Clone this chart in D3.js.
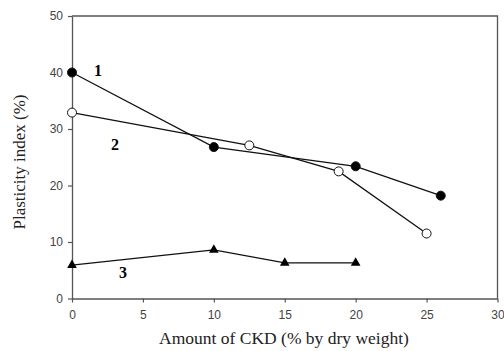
<!DOCTYPE html>
<html>
<head>
<meta charset="utf-8">
<script src="https://cdn.jsdelivr.net/npm/d3@7"></script>
<style>
  body { margin: 0; background: #fff; }
  svg { display: block; }
</style>
</head>
<body>
<script>
// values
const xTicks = [0, 5, 10, 15, 20, 25, 30];
const yTicks = [0, 10, 20, 30, 40, 50];
const s1x = [0, 10, 20, 26];
const s1y = [40, 26.8, 23.4, 18.2];
const s2x = [0, 12.5, 18.8, 25];
const s2y = [32.9, 27.1, 22.5, 11.5];
const s3x = [0, 10, 15, 20];
const s3y = [5.9, 8.6, 6.3, 6.3];

const W = 504, H = 351;
const svg = d3.select("body").append("svg").attr("width", W).attr("height", H);

const x = d3.scaleLinear().domain([0, 30]).range([72, 497.5]);
const y = d3.scaleLinear().domain([0, 50]).range([298.5, 16]);

const axisCol = "#555";

// frame (top + right)
svg.append("path")
  .attr("d", `M${x(0)},${y(50)}H${x(30)}V${y(0)}`)
  .attr("fill", "none").attr("stroke", axisCol).attr("stroke-width", 1.3);

const xAxis = svg.append("g").attr("transform", `translate(0,${y(0)})`)
  .call(d3.axisBottom(x).tickValues(xTicks).tickSize(4).tickPadding(8).tickSizeOuter(0));
const yAxis = svg.append("g").attr("transform", `translate(${x(0)},0)`)
  .call(d3.axisLeft(y).tickValues(yTicks).tickSize(4).tickPadding(5).tickSizeOuter(0));

[xAxis, yAxis].forEach(g => {
  g.select(".domain").attr("stroke", axisCol).attr("stroke-width", 1.3);
  g.selectAll(".tick line").attr("stroke", axisCol).attr("stroke-width", 1.2);
  g.selectAll(".tick text").attr("fill", "#444")
    .style("font-family", "Liberation Sans, Arial, sans-serif").style("font-size", "12px");
});

const line = d3.line().x(d => x(d[0])).y(d => y(d[1]));
const zip = (a, b) => a.map((v, i) => [v, b[i]]);

const series = [
  { pts: zip(s1x, s1y), shape: "circle", fill: "#000" },
  { pts: zip(s2x, s2y), shape: "circle", fill: "#fff" },
  { pts: zip(s3x, s3y), shape: "triangle", fill: "#000" }
];

series.forEach(s => {
  svg.append("path").datum(s.pts).attr("d", line)
    .attr("fill", "none").attr("stroke", "#111").attr("stroke-width", 1.3);
});

series.forEach(s => {
  if (s.shape === "circle") {
    svg.selectAll(null).data(s.pts).enter().append("circle")
      .attr("cx", d => x(d[0])).attr("cy", d => y(d[1])).attr("r", 4.5)
      .attr("fill", s.fill).attr("stroke", "#111").attr("stroke-width", 1);
  } else {
    const tri = d3.symbol().type(d3.symbolTriangle).size(40);
    svg.selectAll(null).data(s.pts).enter().append("path")
      .attr("d", tri)
      .attr("transform", d => `translate(${x(d[0])},${y(d[1])})`)
      .attr("fill", s.fill);
  }
});

// series labels
const labels = [["1", 98, 76], ["2", 115, 150], ["3", 123, 278]];
svg.selectAll(null).data(labels).enter().append("text")
  .attr("x", d => d[1]).attr("y", d => d[2])
  .attr("text-anchor", "middle")
  .style("font-family", "Liberation Serif, Times New Roman, serif")
  .style("font-weight", "bold").style("font-size", "16px")
  .text(d => d[0]);

// axis titles
svg.append("text").attr("x", 284).attr("y", 344).attr("text-anchor", "middle")
  .style("font-family", "Liberation Serif, Times New Roman, serif").style("font-size", "17.5px")
  .attr("fill", "#222")
  .text("Amount of CKD (% by dry weight)");
svg.append("text").attr("transform", "translate(25,162) rotate(-90)").attr("text-anchor", "middle")
  .style("font-family", "Liberation Serif, Times New Roman, serif").style("font-size", "17px")
  .attr("fill", "#222")
  .text("Plasticity index (%)");
</script>
</body>
</html>
